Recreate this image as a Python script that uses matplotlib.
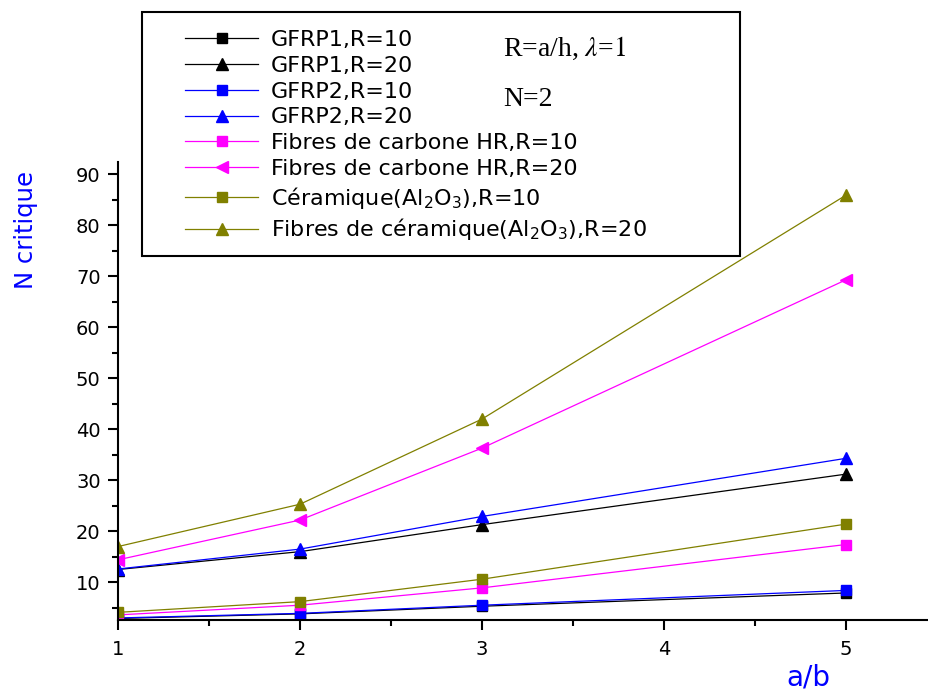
import numpy as np
from matplotlib import pyplot as plt
from matplotlib.patches import Rectangle
from matplotlib.ticker import MultipleLocator

plt.rcParams['font.family'] = 'DejaVu Sans'
plt.rcParams['mathtext.fontset'] = 'stix'
plt.rcParams['mathtext.default'] = 'regular'

# a/b ratios
ab = [1, 2, 3, 5]

# N critique values
gfrp1_r10 = [2.9, 3.8, 5.3, 7.9]
gfrp1_r20 = [12.5, 16.0, 21.3, 31.2]
gfrp2_r10 = [3.0, 3.9, 5.5, 8.4]
gfrp2_r20 = [12.6, 16.5, 22.9, 34.3]
carbone_r10 = [3.6, 5.5, 8.9, 17.4]
carbone_r20 = [14.4, 22.2, 36.3, 69.3]
ceram_r10 = [4.1, 6.2, 10.6, 21.4]
ceram_r20 = [17.0, 25.3, 42.0, 85.9]

labels = ['GFRP1,R=10', 'GFRP1,R=20', 'GFRP2,R=10', 'GFRP2,R=20',
          'Fibres de carbone HR,R=10', 'Fibres de carbone HR,R=20',
          'Céramique(Al$_2$O$_3$),R=10',
          'Fibres de céramique(Al$_2$O$_3$),R=20']

series = [gfrp1_r10, gfrp1_r20, gfrp2_r10, gfrp2_r20,
          carbone_r10, carbone_r20, ceram_r10, ceram_r20]
colors = ['black', 'black', 'blue', 'blue',
          'magenta', 'magenta', '#808000', '#808000']
markers = ['s', '^', 's', '^', 's', '<', 's', '^']

W, H = 929, 691
fig = plt.figure(figsize=(W / 100, H / 100), dpi=100)
ax = fig.add_axes([118 / W, 1 - 620 / H, 1 - 118 / W, (620 - 162) / H])

for y, c, m, lab in zip(series, colors, markers, labels):
    ms = 6.5 if m == 's' else 8.5
    ax.plot(ab, y, color=c, lw=0.9, marker=m, ms=ms, mec=c, mfc=c, label=lab)

ax.set_xlim(1, 1 + (W - 118) / 182.)
ax.set_ylim(2.6, 92.4)
ax.xaxis.set_major_locator(MultipleLocator(1))
ax.xaxis.set_minor_locator(MultipleLocator(0.5))
ax.yaxis.set_major_locator(MultipleLocator(10))
ax.yaxis.set_minor_locator(MultipleLocator(5))
ax.set_yticks(np.arange(10, 91, 10))

for s in ['top', 'right']:
    ax.spines[s].set_visible(False)
for s in ['left', 'bottom']:
    ax.spines[s].set_linewidth(1.5)

ax.tick_params(which='major', direction='out', length=7.5, width=1.5, labelsize=14)
ax.tick_params(which='minor', direction='out', length=4, width=1.5)
ax.tick_params(axis='x', pad=7)
ax.tick_params(axis='y', pad=5)

fig.text(26 / W, 1 - 230 / H, 'N critique', color='blue', fontsize=17.5,
         rotation=90, ha='center', va='center')
fig.text(808 / W, 1 - 677 / H, 'a/b', color='blue', fontsize=20,
         ha='center', va='center')

# legend box
fig.patches.append(Rectangle((142 / W, 1 - 256 / H), (740 - 142) / W, (256 - 12) / H,
                             transform=fig.transFigure, fill=False,
                             ec='black', lw=1.5, zorder=5))
leg = ax.legend(loc='upper left', bbox_to_anchor=(185 / W, 1 - 30 / H),
                bbox_transform=fig.transFigure, frameon=False, fontsize=16,
                borderpad=0, borderaxespad=0, labelspacing=0.26,
                handlelength=3.3, handletextpad=0.55)

fig.text(503 / W, 1 - 48 / H, 'R=a/h, $\\mathit{\\lambda}$=$\\mathit{1}$',
         family='Liberation Serif', fontsize=20, va='center')
fig.text(503 / W, 1 - 100 / H, 'N=2', family='Liberation Serif',
         fontsize=20, va='center')

fig.savefig('out.png', dpi=100)
